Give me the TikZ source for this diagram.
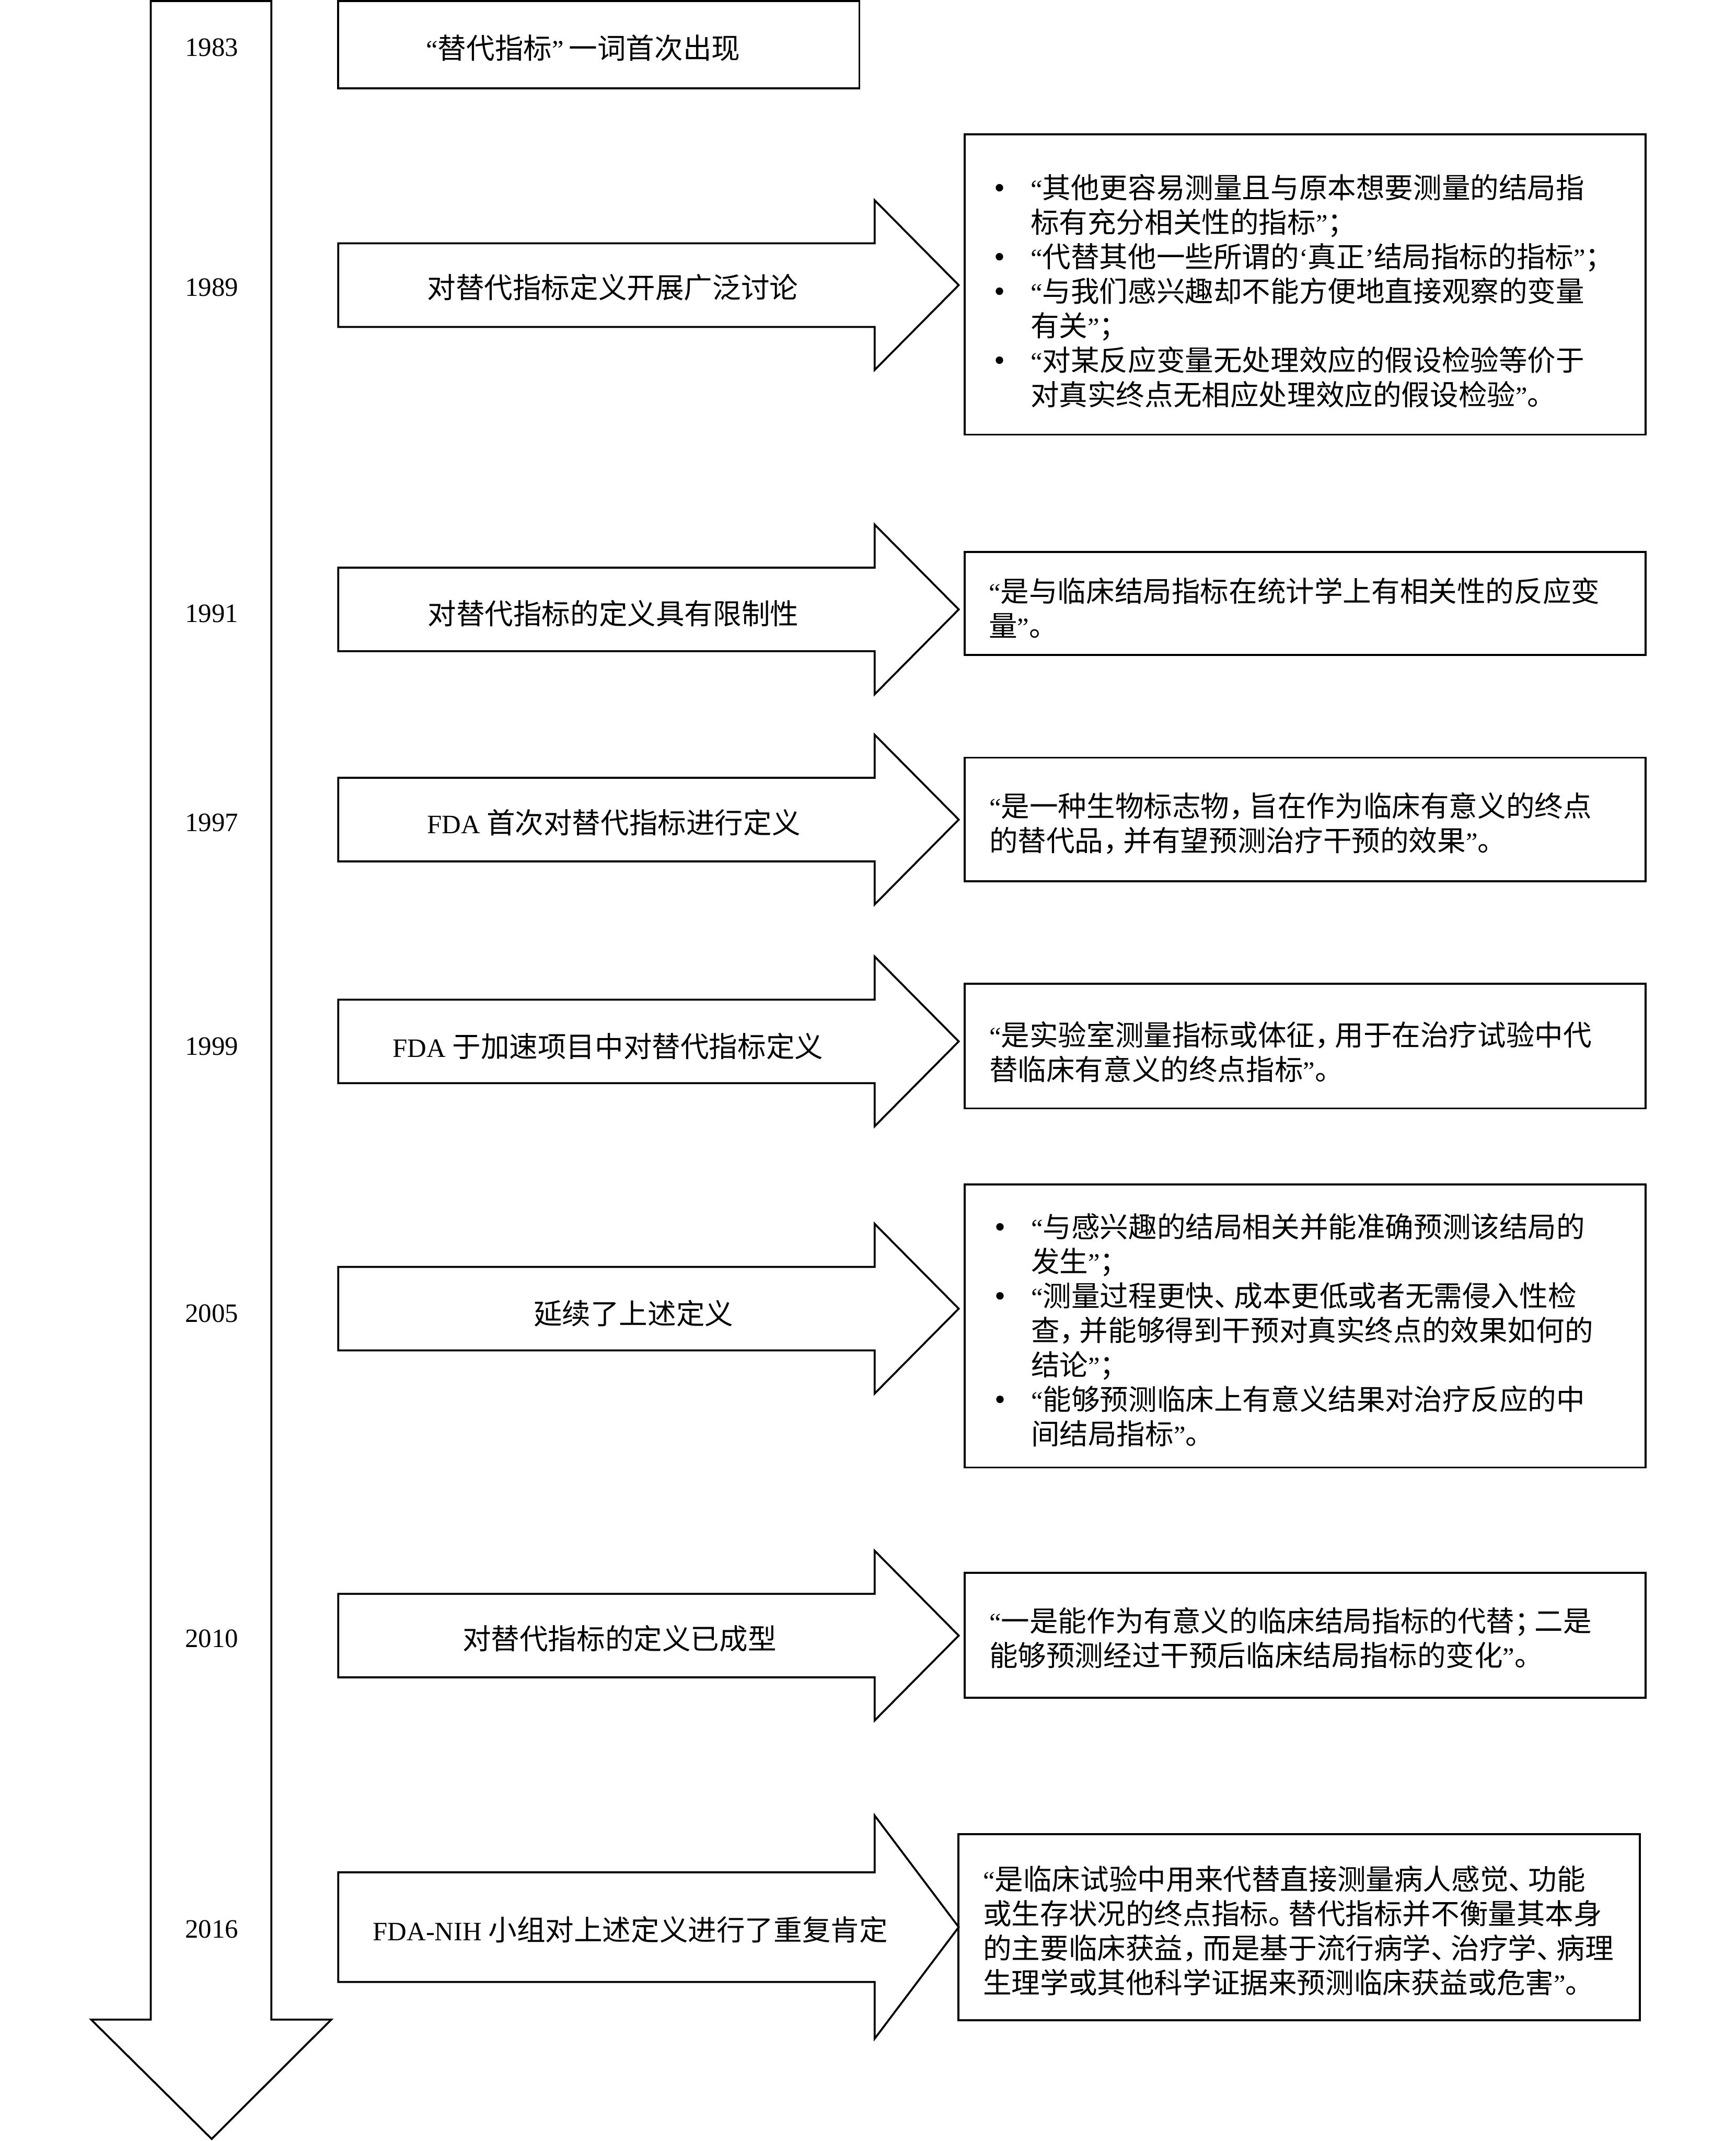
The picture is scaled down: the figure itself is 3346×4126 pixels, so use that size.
\documentclass[tikz,border=0pt]{standalone}
\usepackage{fontspec}
\setmainfont{Noto Sans CJK SC}
\newfontfamily\lat{Liberation Serif}[Scale=0.93]
\newcommand\oqt{{\lat “}}
\newcommand\cqt{{\lat ”}}
\newcommand\osq{{\lat ‘}}
\newcommand\csq{{\lat ’}}
\newcommand\pc[1]{\makebox[0.7em][l]{#1}}
\newcommand\bul{\makebox[14.1pt][l]{\lat\fontsize{13}{13}\selectfont •}}
\newcommand\ind{\hspace*{14.1pt}}
\newcommand\rarr[3]{\draw[shp] (652,{#1-#2}) -- (1686,{#1-#2}) -- (1686,{#1-#3}) -- (1848,#1) -- (1686,{#1+#3}) -- (1686,{#1+#2}) -- (652,{#1+#2}) -- cycle;}
\tikzset{
  shp/.style={draw=black, line width=0.75pt, line join=miter},
  cjk/.style={font=\fontsize{11}{13.3}\selectfont, inner sep=0pt},
  yr/.style={font=\fontsize{11}{13.3}\selectfont\lat, inner sep=0pt, anchor=base},
  lbl/.style={cjk, anchor=base},
  deftext/.style={cjk, anchor=base west, align=left},
}
\begin{document}
\begin{tikzpicture}[x=0.2pt, y=-0.2pt]
\fill[white] (0,0) rectangle (3346,4126);
\useasboundingbox (0,0) rectangle (3346,4126);

% main timeline arrow
\draw[shp] (290.7,2) -- (523,2) -- (523,3892) -- (638.6,3892) -- (408,4122) -- (175.7,3892) -- (290.7,3892) -- cycle;

% years
\node[yr] (y1983) at (408,108) {1983};
\node[yr] (y1989) at (408,571) {1989};
\node[yr] (y1991) at (408,1199) {1991};
\node[yr] (y1997) at (408,1602) {1997};
\node[yr] (y1999) at (408,2033) {1999};
\node[yr] (y2005) at (408,2548) {2005};
\node[yr] (y2010) at (408,3175) {2010};
\node[yr] (y2016) at (408,3735) {2016};

% 1983
\draw[shp] (651.6,2) rectangle (1656.6,170.5);
\node[lbl] (e1983) at (1124,113) {\oqt 替代指标\cqt\hspace{2pt}一词首次出现};

% event arrows
\rarr{549.5}{80.5}{163.5}
\rarr{1174.5}{80.5}{163.5}
\rarr{1579.5}{80.5}{163.5}
\rarr{2007}{80.5}{163.5}
\rarr{2522}{80.5}{163.5}
\rarr{3152}{80.5}{163.5}
\rarr{3713.8}{105.7}{215}

\node[lbl] (e1989) at (1181,575) {对替代指标定义开展广泛讨论};
\node[lbl] (e1991) at (1182,1203) {对替代指标的定义具有限制性};
\node[lbl] (e1997) at (1183,1606) {{\lat FDA} 首次对替代指标进行定义};
\node[lbl] (e1999) at (1172,2037) {{\lat FDA} 于加速项目中对替代指标定义};
\node[lbl] (e2005) at (1221,2552) {延续了上述定义};
\node[lbl] (e2010) at (1194,3179) {对替代指标的定义已成型};
\node[lbl] (e2016) at (1215,3740) {{\lat FDA-NIH} 小组对上述定义进行了重复肯定};

% definition boxes (text nodes anchored at the baseline of their last line)
\draw[shp] (1859.5,259) rectangle (3172,837.5);
\node[deftext] (d1989) at (1915,781) {%
\bul\oqt 其他更容易测量且与原本想要测量的结局指\\
\ind 标有充分相关性的指标\cqt ；\\
\bul\oqt 代替其他一些所谓的\osq 真正\csq 结局指标的指标\cqt ；\\
\bul\oqt 与我们感兴趣却不能方便地直接观察的变量\\
\ind 有关\cqt ；\\
\bul\oqt 对某反应变量无处理效应的假设检验等价于\\
\ind 对真实终点无相应处理效应的假设检验\cqt 。};

\draw[shp] (1859.5,1064) rectangle (3172,1262);
\node[deftext] (d1991) at (1905,1226) {%
\oqt 是与临床结局指标在统计学上有相关性的反应变\\
量\cqt 。};

\draw[shp] (1859.5,1460) rectangle (3172,1698);
\node[deftext] (d1997) at (1906,1640) {%
\oqt 是一种生物标志物\pc{，}旨在作为临床有意义的终点\\
的替代品\pc{，}并有望预测治疗干预的效果\cqt 。};

\draw[shp] (1859.5,1896) rectangle (3172,2136);
\node[deftext] (d1999) at (1906,2082) {%
\oqt 是实验室测量指标或体征\pc{，}用于在治疗试验中代\\
替临床有意义的终点指标\cqt 。};

\draw[shp] (1859.5,2282.5) rectangle (3172,2828);
\node[deftext] (d2005) at (1916,2784) {%
\bul\oqt 与感兴趣的结局相关并能准确预测该结局的\\
\ind 发生\cqt ；\\
\bul\oqt 测量过程更快\pc{、}成本更低或者无需侵入性检\\
\ind 查\pc{，}并能够得到干预对真实终点的效果如何的\\
\ind 结论\cqt ；\\
\bul\oqt 能够预测临床上有意义结果对治疗反应的中\\
\ind 间结局指标\cqt 。};

\draw[shp] (1859.5,3031) rectangle (3172,3271.5);
\node[deftext] (d2010) at (1906,3211) {%
\oqt 一是能作为有意义的临床结局指标的代替\pc{；}二是\\
能够预测经过干预后临床结局指标的变化\cqt 。};

\draw[shp] (1847.5,3535) rectangle (3161,3893);
\node[deftext] (d2016) at (1894,3841) {%
\oqt 是临床试验中用来代替直接测量病人感觉\pc{、}功能\\
或生存状况的终点指标\pc{。}替代指标并不衡量其本身\\
的主要临床获益\pc{，}而是基于流行病学\pc{、}治疗学\pc{、}病理\\
生理学或其他科学证据来预测临床获益或危害\cqt 。};
\end{tikzpicture}
\end{document}
